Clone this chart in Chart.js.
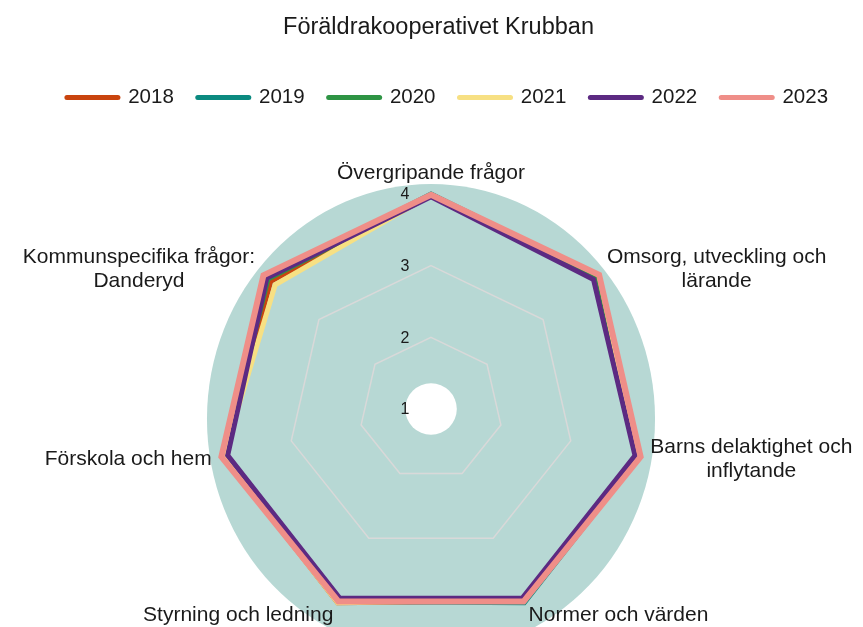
<!DOCTYPE html>
<html>
<head>
<meta charset="utf-8">
<script src="https://cdn.jsdelivr.net/npm/chart.js@4.4.0/dist/chart.umd.min.js"></script>
<style>
    html, body { margin: 0; padding: 0; background: #fff; }
    #wrap { width: 863px; height: 627px; }
</style>
</head>
<body>
<div id="wrap"><canvas id="radarChart"></canvas></div>
<script>
// categories (axes) of the radar, multi-line labels as arrays
const categories = [
    'Övergripande frågor',
    ['Omsorg, utveckling och', 'lärande'],
    ['Barns delaktighet och', 'inflytande'],
    'Normer och värden',
    'Styrning och ledning',
    'Förskola och hem',
    ['Kommunspecifika frågor:', 'Danderyd']
];

const years = ['2018', '2019', '2020', '2021', '2022', '2023'];

const values2018 = [3.98, 3.96, 3.98, 3.97, 4.00, 3.97, 3.86];
const values2019 = [4.00, 3.97, 3.98, 4.00, 3.98, 3.97, 3.92];
const values2020 = [3.98, 3.93, 3.97, 3.95, 3.97, 3.96, 3.91];
const values2021 = [3.99, 4.00, 3.96, 3.95, 4.00, 3.97, 3.78];
const values2022 = [3.96, 3.90, 3.92, 3.93, 3.93, 3.91, 3.93];
const values2023 = [3.99, 4.00, 4.00, 3.98, 3.98, 4.00, 3.99];

const tickValues = [1, 2, 3, 4];

const FONT = '"Liberation Sans", Arial, Helvetica, sans-serif';
const TEXT_COLOR = '#1a1a1a';
const LEGEND_GAP = 77;
const TITLE_SHIFT = 7;
const LEGEND_SHIFT = 16;

const seriesValues = [values2018, values2019, values2020, values2021, values2022, values2023];
const seriesColors = ['#c9440e', '#0b8a80', '#2e9444', '#f7e083', '#5c2a82', '#ef8e88'];
const seriesWidths = [5, 5, 5, 5, 5, 6];

// teal disc behind the grid, white hole in the middle
const backdropPlugin = {
    id: 'backdrop',
    beforeDraw(chart) {
        const scale = chart.scales.r;
        const ctx = chart.ctx;
        const r = scale.drawingArea;
        ctx.save();
        ctx.fillStyle = '#b7d8d4';
        ctx.beginPath();
        ctx.ellipse(scale.xCenter, scale.yCenter + r * 0.046, r * 1.042, r * 1.093, 0, 0, Math.PI * 2);
        ctx.fill();
        ctx.fillStyle = '#ffffff';
        ctx.beginPath();
        ctx.arc(scale.xCenter, scale.yCenter, r * 0.12, 0, Math.PI * 2);
        ctx.fill();
        ctx.restore();
    }
};

// tick numbers sit just left of the vertical axis
const tickLabelPlugin = {
    id: 'tickLabels',
    afterDraw(chart) {
        const scale = chart.scales.r;
        const ctx = chart.ctx;
        ctx.save();
        ctx.font = '16px ' + FONT;
        ctx.fillStyle = TEXT_COLOR;
        ctx.textAlign = 'center';
        ctx.textBaseline = 'middle';
        tickValues.forEach(v => {
            const d = scale.getDistanceFromCenterForValue(v);
            ctx.fillText(String(v), scale.xCenter - 26, scale.yCenter - d + 1);
        });
        ctx.restore();
    }
};

// axis names, centred lines in a block anchored outside each spoke
const pointLabelPlugin = {
    id: 'axisNames',
    afterDraw(chart) {
        const scale = chart.scales.r;
        const ctx = chart.ctx;
        const lineHeight = 24;
        ctx.save();
        ctx.font = '21px ' + FONT;
        ctx.fillStyle = TEXT_COLOR;
        ctx.textAlign = 'center';
        ctx.textBaseline = 'middle';
        categories.forEach((label, i) => {
            const lines = Array.isArray(label) ? label : [label];
            const blockW = Math.max(...lines.map(l => ctx.measureText(l).width));
            const blockH = lines.length * lineHeight;
            const p = scale.getPointPosition(i, scale.drawingArea + 10);
            let cx, cy;
            if (Math.abs(p.x - scale.xCenter) < 5) {
                cx = p.x;
                cy = p.y - blockH / 2 + 1;
            } else if (p.x > scale.xCenter) {
                cx = p.x + blockW / 2;
                cy = p.y;
            } else {
                cx = p.x - blockW / 2;
                cy = p.y;
            }
            if (p.y > scale.yCenter + scale.drawingArea * 0.8) cy += 3;
            lines.forEach((line, k) => {
                ctx.fillText(line, cx, cy - blockH / 2 + lineHeight * (k + 0.5));
            });
        });
        ctx.restore();
    }
};

// room between legend and plot, and nudge the header a bit right
const headerPlugin = {
    id: 'header',
    afterInit(chart) {
        const legend = chart.legend;
        const fit = legend.fit;
        legend.fit = function () {
            fit.call(this);
            this.height += LEGEND_GAP;
        };
    },
    afterLayout(chart) {
        chart.titleBlock.left += TITLE_SHIFT;
        chart.titleBlock.right += TITLE_SHIFT;
        chart.legend.left += LEGEND_SHIFT;
        chart.legend.right += LEGEND_SHIFT;
    }
};

// 2023 is drawn on top, so later years get a lower order
const datasets = years.map((year, i) => ({
    label: year,
    data: seriesValues[i],
    borderColor: seriesColors[i],
    backgroundColor: seriesColors[i],
    borderWidth: seriesWidths[i],
    borderJoinStyle: 'miter',
    pointRadius: 0,
    pointHoverRadius: 0,
    fill: false,
    tension: 0,
    order: years.length - i
}));

new Chart(document.getElementById('radarChart'), {
    type: 'radar',
    data: { labels: categories, datasets: datasets },
    options: {
        responsive: true,
        maintainAspectRatio: false,
        animation: false,
        devicePixelRatio: 1,
        layout: { padding: { top: 0, bottom: 2, left: 0, right: 0 } },
        scales: {
            r: {
                min: 1,
                max: 4,
                ticks: { display: false, stepSize: 1 },
                angleLines: { display: false },
                pointLabels: { display: false },
                grid: {
                    circular: false,
                    lineWidth: 1.5,
                    color: (ctx) => (ctx.tick && ctx.tick.value === 4) ? 'rgba(0,0,0,0)' : '#d9d9d9'
                }
            }
        },
        plugins: {
            title: {
                display: true,
                text: 'Föräldrakooperativet Krubban',
                color: TEXT_COLOR,
                font: { family: FONT, size: 23.5, weight: 'normal' },
                padding: { top: 13, bottom: 22 }
            },
            legend: {
                position: 'top',
                reverse: true,
                labels: {
                    usePointStyle: true,
                    pointStyle: 'line',
                    pointStyleWidth: 51,
                    padding: 24,
                    color: TEXT_COLOR,
                    font: { family: FONT, size: 20.5 },
                    generateLabels(chart) {
                        const items = Chart.defaults.plugins.legend.labels.generateLabels(chart);
                        items.forEach(item => { item.lineCap = 'round'; item.lineWidth = 5; });
                        return items;
                    }
                }
            },
            tooltip: { enabled: false }
        }
    },
    plugins: [backdropPlugin, tickLabelPlugin, pointLabelPlugin, headerPlugin]
});
</script>
</body>
</html>
